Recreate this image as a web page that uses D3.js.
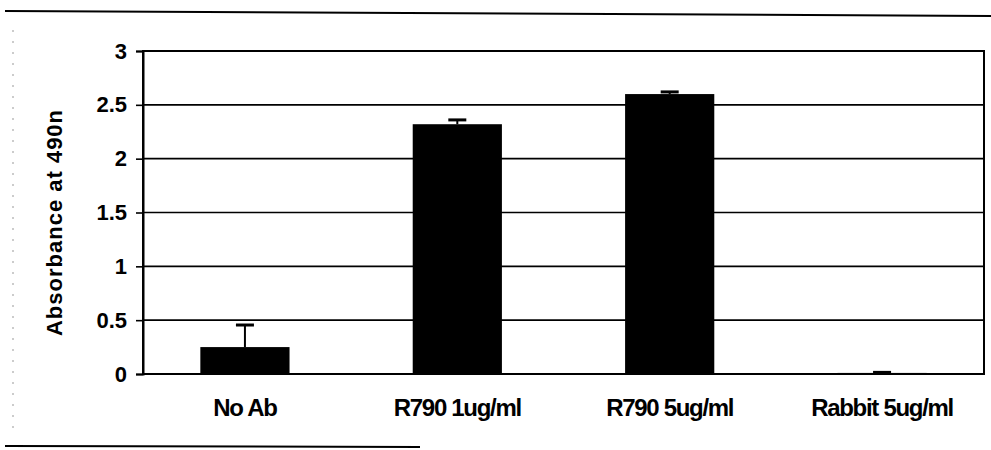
<!DOCTYPE html>
<html>
<head>
<meta charset="utf-8">
<script src="https://cdn.jsdelivr.net/npm/d3@7"></script>
<style>
  html, body { margin: 0; padding: 0; background: #fff; }
  svg { display: block; }
  text { font-family: "Liberation Sans", Arial, sans-serif; font-weight: bold; fill: #000; }
</style>
</head>
<body>
<svg id="chart" width="991" height="450"></svg>
<script>
// Absorbance readings at 490 nm per antibody condition
const categories = ["No Ab", "R790 1ug/ml", "R790 5ug/ml", "Rabbit 5ug/ml"];
const absorbance = [0.25, 2.32, 2.60, 0.01];
const errorUpper = [0.455, 2.36, 2.62, 0.015];
const yTicks = [0, 0.5, 1, 1.5, 2, 2.5, 3];
const yTitle = "Absorbance at 490n";

const svg = d3.select("#chart");
const plot = { left: 143, right: 984, top: 51, bottom: 374 };

const x = d3.scaleBand()
  .domain(categories)
  .range([plot.left, plot.right])
  .paddingInner(0.58)
  .paddingOuter(0.27);

const y = d3.scaleLinear()
  .domain([0, 3])
  .range([plot.bottom, plot.top]);

// page rules above and below the figure
svg.append("line").attr("x1", 5).attr("x2", 991).attr("y1", 11).attr("y2", 16)
  .attr("stroke", "#000").attr("stroke-width", 2);
svg.append("line").attr("x1", 5).attr("x2", 420).attr("y1", 446).attr("y2", 447)
  .attr("stroke", "#000").attr("stroke-width", 2);
svg.append("line").attr("x1", 13).attr("x2", 13).attr("y1", 30).attr("y2", 435)
  .attr("stroke", "#999").attr("stroke-width", 1).attr("stroke-dasharray", "2,9");

// horizontal gridlines
svg.append("g")
  .selectAll("line")
  .data(yTicks.filter(d => d > 0))
  .join("line")
  .attr("x1", plot.left).attr("x2", plot.right)
  .attr("y1", d => y(d)).attr("y2", d => y(d))
  .attr("stroke", "#000").attr("stroke-width", 1.6);

// bars
svg.append("g")
  .selectAll("rect")
  .data(categories)
  .join("rect")
  .attr("x", d => x(d))
  .attr("width", x.bandwidth())
  .attr("y", (d, i) => y(absorbance[i]))
  .attr("height", (d, i) => y(0) - y(absorbance[i]))
  .attr("fill", "#000");

// error bars (upper only)
const eb = svg.append("g");
categories.forEach((c, i) => {
  const cx = x(c) + x.bandwidth() / 2;
  eb.append("line").attr("x1", cx).attr("x2", cx)
    .attr("y1", y(absorbance[i])).attr("y2", y(errorUpper[i]))
    .attr("stroke", "#000").attr("stroke-width", 2);
  eb.append("line").attr("x1", cx - 9).attr("x2", cx + 9)
    .attr("y1", y(errorUpper[i])).attr("y2", y(errorUpper[i]))
    .attr("stroke", "#000").attr("stroke-width", 3);
});

// plot frame
svg.append("rect")
  .attr("x", plot.left).attr("y", plot.top)
  .attr("width", plot.right - plot.left).attr("height", plot.bottom - plot.top)
  .attr("fill", "none").attr("stroke", "#000").attr("stroke-width", 2);

// y axis
const yAxis = svg.append("g")
  .attr("transform", `translate(${plot.left},0)`)
  .call(d3.axisLeft(y).tickValues(yTicks).tickSize(7).tickPadding(9).tickFormat(d3.format("")));
yAxis.attr("font-size", null).attr("font-family", null);
yAxis.select(".domain").attr("stroke", "#000").attr("stroke-width", 2);
yAxis.selectAll(".tick line").attr("stroke", "#000").attr("stroke-width", 1.6);
yAxis.selectAll(".tick text")
  .style("font-size", "22px")
  .style("font-weight", "bold")
  .style("fill", "#000");

// x axis labels
const xAxis = svg.append("g")
  .attr("transform", `translate(0,${plot.bottom})`)
  .call(d3.axisBottom(x).tickSize(0).tickPadding(25));
xAxis.attr("font-size", null).attr("font-family", null);
xAxis.select(".domain").remove();
xAxis.selectAll(".tick text")
  .style("font-size", "24px")
  .style("font-weight", "bold")
  .style("fill", "#000")
  .style("letter-spacing", "-1.3px");

// y axis title
svg.append("text")
  .attr("transform", `translate(62,${(plot.top + plot.bottom) / 2 + 10}) rotate(-90)`)
  .attr("text-anchor", "middle")
  .style("font-size", "22px")
  .style("letter-spacing", "1px")
  .text(yTitle);
</script>
</body>
</html>
